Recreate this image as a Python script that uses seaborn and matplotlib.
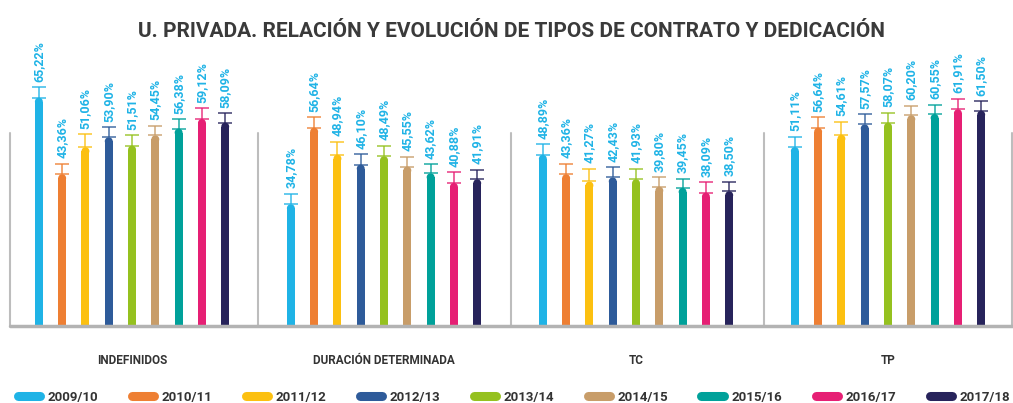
import numpy as np
import pandas as pd
import matplotlib.pyplot as plt
import seaborn as sns
from matplotlib.patches import Ellipse
from matplotlib.lines import Line2D

# datos
categorias = ['INDEFINIDOS', 'DURACIÓN DETERMINADA', 'TC', 'TP']
cursos = ['2009/10', '2010/11', '2011/12', '2012/13', '2013/14',
          '2014/15', '2015/16', '2016/17', '2017/18']
indefinidos = [65.22, 43.36, 51.06, 53.90, 51.51, 54.45, 56.38, 59.12, 58.09]
duracion = [34.78, 56.64, 48.94, 46.10, 48.49, 45.55, 43.62, 40.88, 41.91]
tc = [48.89, 43.36, 41.27, 42.43, 41.93, 39.80, 39.45, 38.09, 38.50]
tp = [51.11, 56.64, 54.61, 57.57, 58.07, 60.20, 60.55, 61.91, 61.50]
errores = [3.0, 3.0, 3.7, 2.9, 2.9, 2.7, 2.6, 3.0, 2.7]
colores = ['#1fb3e6', '#ee7f33', '#fcc010', '#2e5b9a', '#95c11f',
           '#c89d69', '#00a19a', '#e61f74', '#27235b']

titulo = 'U. PRIVADA. RELACIÓN Y EVOLUCIÓN DE TIPOS DE CONTRATO Y DEDICACIÓN'

sns.set_style('white')
plt.rcParams['font.family'] = ['Roboto', 'DejaVu Sans']

df = pd.DataFrame({
    'categoria': np.repeat(categorias, len(cursos)),
    'curso': cursos * len(categorias),
    'valor': indefinidos + duracion + tc + tp,
})

fig = plt.figure(figsize=(10.13, 4.03), dpi=100)
ax = fig.add_axes([0, 77 / 403, 1, 326 / 403])

sns.barplot(data=df, x='categoria', y='valor', hue='curso', order=categorias,
            hue_order=cursos, palette=colores, width=0.832, gap=0.66,
            legend=False, ax=ax, saturation=1, zorder=3, linewidth=0)

ax.set_ylim(0, 93.1)
ax.set_xlim(-0.524, 3.496)

# px per unit, for the round tops
px_x = ax.transData.transform((1, 0))[0] - ax.transData.transform((0, 0))[0]
px_y = ax.transData.transform((0, 1))[1] - ax.transData.transform((0, 0))[1]

conts = list(ax.containers)
for j, cont in enumerate(conts):
    c = colores[j]
    e = errores[j]
    for bar in cont:
        x = bar.get_x()
        w = bar.get_width()
        h = bar.get_height()
        xc = x + w / 2
        ry = (w / 2) * px_x / px_y
        bar.set_height(h - ry)
        ax.add_patch(Ellipse((xc, h - ry), w, 2 * ry, facecolor=c, zorder=3, lw=0))
        ax.errorbar(xc, h, yerr=[[0], [e]], color=c, alpha=0.75, capsize=5,
                    elinewidth=1.3, capthick=1.3, zorder=2)
        ax.annotate(f'{h:.2f}%'.replace('.', ','), xy=(xc, h + e), xytext=(0, 4),
                    textcoords='offset points', rotation=90, ha='center', va='bottom',
                    color='#1fb3e6', fontsize=9, fontweight='bold')

# separadores y base
for xs in [-0.484, 0.5, 1.504, 2.508, 3.492]:
    ax.plot([xs, xs], [0, 55], color='#bdbdbd', lw=1.5, zorder=1, clip_on=False)
ax.plot([-0.484, 3.496], [0, 0], color='#b3b3b3', lw=2.5, zorder=4, clip_on=False)

sns.despine(ax=ax, left=True, bottom=True)
ax.set_yticks([])
ax.set_xlabel('')
ax.set_ylabel('')
ax.tick_params(axis='x', length=0, pad=20, labelsize=8.5, labelcolor='#333333')
for t in ax.get_xticklabels():
    t.set_fontweight('bold')

fig.text(0.505, 1 - 37 / 403, titulo, ha='center', va='baseline', fontsize=15,
         fontweight='bold', color='#3a3a3a')

handles = [Line2D([0], [0], color=c, lw=6.5, solid_capstyle='round') for c in colores]
fig.legend(handles, cursos, loc='center left', bbox_to_anchor=(11 / 1013, 6 / 403),
           ncol=9, frameon=False, borderpad=0, handlelength=1.7, handletextpad=0.55,
           columnspacing=2.55, prop={'size': 9.5, 'weight': 'bold'},
           labelcolor='#333333')

fig.savefig('out.png', dpi=100)
